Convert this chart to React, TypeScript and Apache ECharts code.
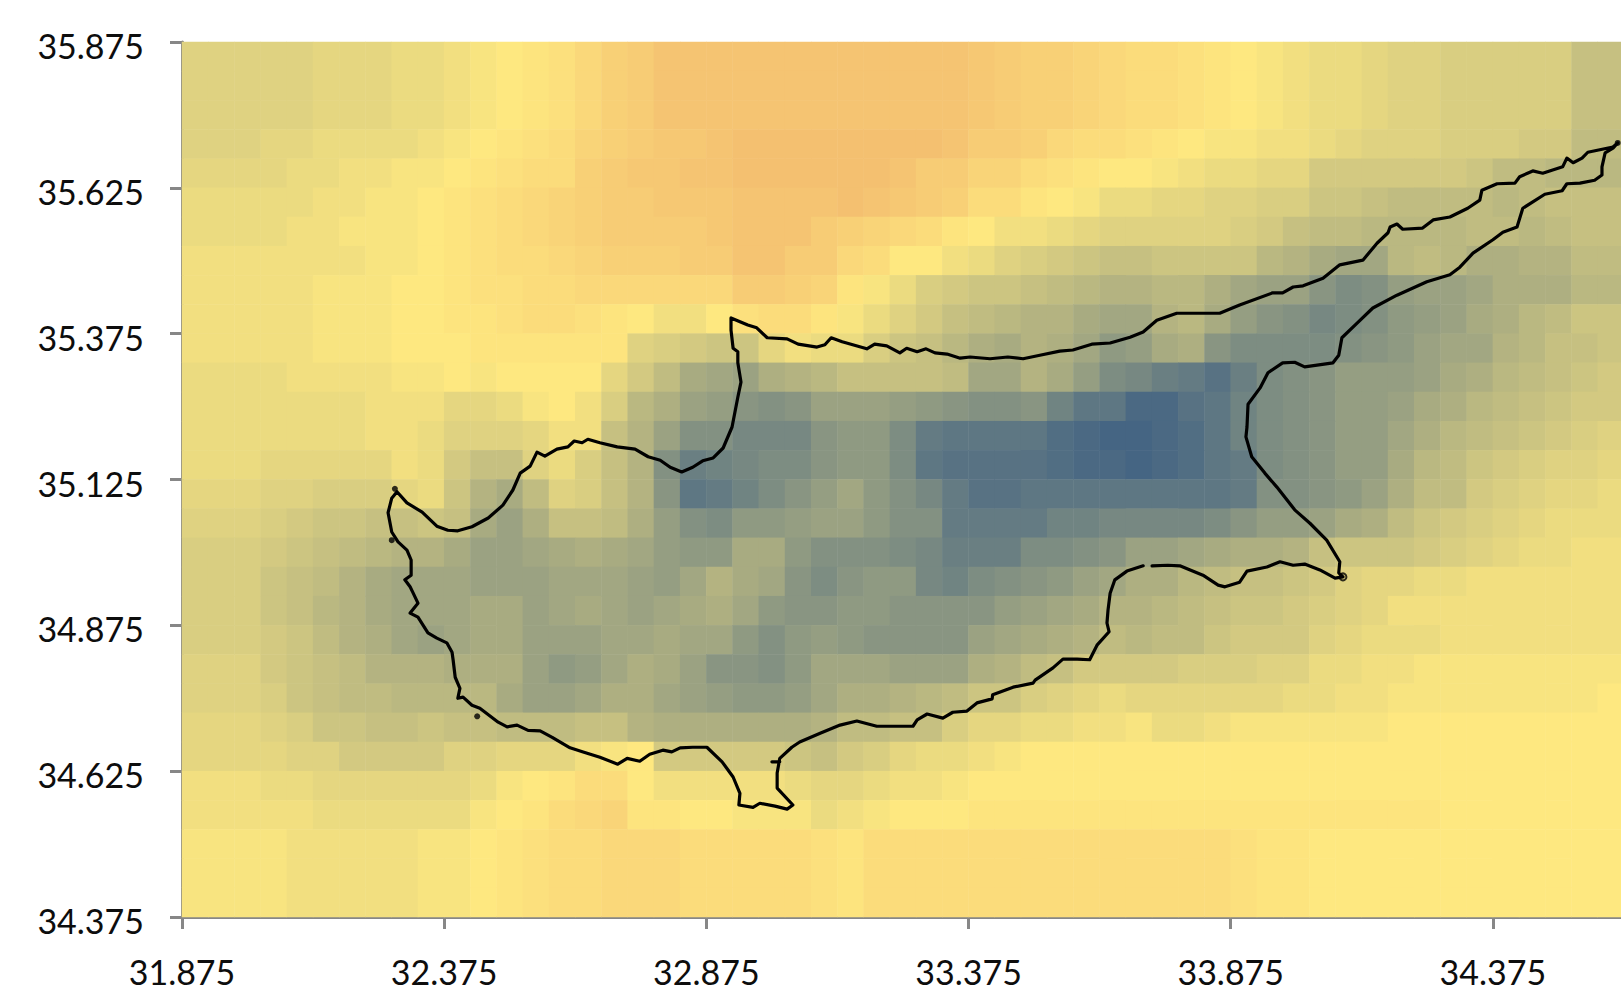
import React, { useEffect, useRef } from "react";
import * as echarts from "echarts";

const xTickLabels = ["31.875", "32.375", "32.875", "33.375", "33.875", "34.375"];
const yTickLabels = ["34.375", "34.625", "34.875", "35.125", "35.375", "35.625", "35.875"];

// cell values, north to south, west to east
const row00 = [25,25,25,25,25,26,26,26,27,27,28,29,30,31,32,34,36,37,39,39,39,39,39,39,39,39,39,39,39,39,38,37,36,36,35,34,33,33,32,31,30,29,28,27,27,26,25,25,24,24,24,24,24,21,21];
const row01 = row00;
const row02 = row00;
const row03 = [25,25,25,26,26,27,27,27,27,28,29,30,31,32,33,35,36,37,38,38,39,40,40,40,40,40,40,40,40,39,37,37,36,34,33,33,32,31,30,29,29,28,28,27,26,25,25,25,24,24,24,23,23,20,20];
const row04 = [26,26,26,26,27,27,28,28,29,29,30,31,32,33,33,36,37,38,38,39,39,40,40,40,40,40,40,39,37,37,35,35,33,32,31,30,30,29,28,27,27,26,26,23,23,23,23,23,23,22,20,20,19,19,19];
const row05 = [27,27,27,27,27,28,28,29,29,30,31,32,33,34,35,36,37,37,38,38,38,39,39,39,39,40,39,38,37,36,33,33,31,30,29,27,27,26,26,25,25,24,24,22,22,21,20,20,20,20,19,20,21,21,21];
const row06 = [27,27,27,27,28,28,29,29,29,30,31,32,33,34,35,36,37,37,37,37,38,39,39,39,37,36,35,34,33,31,30,28,28,27,26,25,25,25,25,25,24,23,21,20,20,19,19,19,19,20,20,19,20,21,21];
const row07 = [28,28,28,28,28,28,28,29,29,30,31,32,33,33,34,35,36,36,36,37,37,39,39,37,37,34,33,30,30,28,27,25,24,23,22,21,21,22,22,22,22,19,18,16,15,15,19,20,19,17,17,18,18,20,20];
const row08 = [28,28,28,28,28,29,29,29,30,30,31,32,32,33,33,34,34,34,34,34,34,37,37,36,35,31,29,27,24,23,22,22,21,20,19,18,18,19,19,17,15,14,14,11,9,10,13,14,14,15,17,17,17,19,19];
const row09 = [28,28,28,28,28,29,29,29,30,30,31,31,32,33,33,32,31,30,28,28,30,32,33,33,31,29,27,25,23,21,20,19,18,18,16,15,15,18,19,16,13,11,10,8,9,10,12,13,14,16,17,19,20,22,22];
const row10 = [28,28,28,28,28,29,29,29,30,30,30,31,31,31,31,31,31,25,24,23,22,22,26,28,27,27,24,22,21,19,17,16,18,17,15,12,13,16,17,11,9,9,9,9,10,11,12,14,15,15,18,19,21,21,22];
const row11 = [27,27,27,27,28,28,28,28,29,29,30,29,30,30,30,30,26,23,20,16,15,14,17,18,19,21,21,21,21,20,15,15,18,16,13,9,8,6,5,3,6,9,10,11,13,13,13,14,16,17,19,20,21,22,23];
const row12 = [27,27,27,27,27,27,27,28,28,28,26,26,27,29,30,28,24,19,17,14,13,11,10,11,14,14,14,13,12,11,10,10,11,7,4,4,1,1,3,4,7,9,10,11,13,13,14,16,17,19,20,21,22,23,23];
const row13 = [27,27,27,27,27,27,27,28,28,27,25,25,25,26,28,28,21,18,14,10,10,8,8,8,11,12,12,9,5,4,4,4,4,2,1,0,0,1,2,4,7,9,10,11,13,13,15,17,19,20,21,22,23,24,25];
const row14 = [27,27,27,26,26,26,26,26,28,27,23,21,21,25,27,24,21,18,10,6,7,8,9,9,11,12,12,9,4,3,3,3,3,2,1,1,0,1,2,4,5,9,10,11,13,13,16,19,20,22,23,24,25,25,26];
const row15 = [26,26,26,25,25,24,24,24,26,27,22,18,16,20,25,24,21,18,11,4,5,7,9,11,13,15,12,10,8,5,3,3,4,4,4,4,4,4,4,4,5,10,10,11,12,14,17,20,20,23,24,25,26,26,27];
const row16 = [25,25,25,24,23,22,22,21,21,22,21,16,14,17,21,21,20,17,13,10,9,12,12,13,14,14,12,10,10,5,5,5,5,7,7,8,8,8,8,9,11,13,13,14,16,17,20,22,23,24,25,26,27,27,27];
const row17 = [24,24,24,23,22,21,20,19,18,18,16,14,14,15,16,17,16,15,13,12,12,16,16,12,10,10,10,9,8,6,6,6,9,9,10,11,14,14,15,16,17,17,18,21,22,22,22,23,24,25,26,27,27,28,28];
const row18 = [24,24,24,22,21,20,18,16,15,15,15,14,14,14,15,15,15,14,13,15,18,16,15,11,9,11,12,12,8,7,9,10,11,12,14,15,17,17,19,20,21,21,22,23,25,26,26,27,27,28,28,28,28,28,28];
const row19 = [24,24,24,22,21,19,18,16,15,15,15,16,16,14,15,16,15,14,15,16,17,15,12,11,11,12,12,11,11,11,11,13,14,15,16,18,18,19,20,21,22,22,23,24,25,26,28,28,28,28,28,28,28,28,28];
const row20 = [24,24,24,23,22,20,18,17,15,14,15,16,16,14,14,14,15,15,16,15,15,12,10,12,13,12,11,11,11,11,14,15,16,17,18,20,19,20,20,22,23,23,23,25,26,27,27,27,28,28,28,28,28,28,28];
const row21 = [25,25,25,23,22,21,20,18,18,18,17,17,17,14,12,13,15,17,16,14,11,11,10,12,15,15,15,14,14,14,17,18,20,21,23,23,23,23,24,24,24,25,25,27,27,28,28,29,29,29,29,29,29,29,29];
const row22 = [25,25,25,24,22,21,20,20,19,19,19,19,16,14,14,15,17,17,15,14,13,12,12,13,15,17,17,18,19,20,22,22,24,25,26,27,26,26,26,26,26,26,27,27,28,28,29,29,29,29,29,29,29,29,30];
const row23 = [26,26,26,25,24,22,22,21,21,22,21,21,20,20,20,21,21,18,17,17,17,17,17,17,18,20,20,21,21,24,26,26,27,27,28,28,29,27,27,28,29,29,29,29,29,29,30,30,30,30,30,30,30,30,30];
const row24 = [26,26,26,26,25,25,23,23,23,23,25,25,26,26,26,28,29,30,23,23,23,23,23,22,21,23,24,26,27,27,28,29,30,30,30,30,30,30,30,30,30,30,30,30,30,30,30,30,30,30,30,30,30,30,30];
const row25 = [28,28,28,27,27,26,26,26,26,26,26,27,29,30,31,33,33,30,28,28,28,28,28,27,26,26,27,28,28,29,30,30,30,30,30,30,30,30,30,30,30,30,30,30,30,30,30,30,30,30,30,30,30,30,30];
const row26 = [28,28,28,28,28,27,27,27,27,27,27,29,30,31,33,34,35,31,31,30,30,29,29,29,27,28,29,30,30,30,31,31,31,31,31,31,31,31,31,31,31,31,31,31,31,31,31,31,30,30,30,30,30,30,30];
const row27 = [29,29,29,29,28,28,28,28,28,29,29,30,31,32,33,33,34,34,34,33,33,33,33,33,32,31,33,33,33,33,33,33,33,33,33,33,33,33,33,33,32,31,31,30,30,30,30,30,30,30,30,30,30,30,30];
const row28 = row27;
const row29 = row27;

const cellRows = [row00,row01,row02,row03,row04,row05,row06,row07,row08,row09,row10,row11,row12,row13,row14,row15,row16,row17,row18,row19,row20,row21,row22,row23,row24,row25,row26,row27,row28,row29];

// coastline, degrees; null marks a break in the line
const coastLon = [32.285,32.304,32.333,32.361,32.382,32.401,32.428,32.459,32.487,32.506,32.520,32.539,32.552,32.567,32.590,32.611,32.623,32.638,32.649,32.672,32.705,32.739,32.764,32.787,32.806,32.828,32.849,32.868,32.888,32.907,32.924,32.935,32.941,32.935,32.935,32.926,32.922,32.922,32.954,32.971,32.991,33.029,33.050,33.086,33.101,33.113,33.134,33.181,33.196,33.219,33.244,33.257,33.277,33.294,33.311,33.334,33.359,33.378,33.416,33.450,33.479,33.511,33.549,33.574,33.610,33.645,33.683,33.708,33.734,33.772,33.822,33.854,33.892,33.955,33.974,33.994,34.013,34.051,34.083,34.127,34.154,34.175,34.179,34.192,34.203,34.241,34.261,34.293,34.327,34.350,34.354,34.383,34.417,34.426,34.451,34.470,34.508,34.516,34.528,34.545,34.556,34.604,34.613,34.604,34.589,34.583,34.583,34.569,34.541,34.516,34.507,34.474,34.432,34.421,34.394,34.375,34.337,34.312,34.293,34.249,34.192,34.146,34.116,34.087,34.081,34.070,34.016,33.997,33.974,33.946,33.931,33.908,33.906,33.904,33.915,33.940,33.963,33.997,34.026,34.058,34.083,34.081,34.089,34.074,34.045,34.016,33.994,33.969,33.944,33.906,33.892,33.864,33.851,33.822,33.778,33.755,33.725,null,33.708,33.677,33.654,33.645,33.641,33.639,33.643,33.620,33.606,33.582,33.555,33.536,33.502,33.498,33.460,33.421,33.420,33.391,33.372,33.345,33.326,33.296,33.277,33.269,33.200,33.162,33.130,33.092,33.053,33.038,33.015,33.010,33.010,33.040,33.029,33.006,32.977,32.964,32.937,32.939,32.926,32.905,32.876,32.849,32.825,32.809,32.792,32.767,32.748,32.724,32.706,32.672,32.640,32.615,32.581,32.558,32.535,32.514,32.495,32.478,32.443,32.428,32.411,32.401,32.405,32.396,32.392,32.390,32.380,32.361,32.344,32.325,32.310,32.325,32.315,32.310,32.300,32.312,32.312,32.304,32.287,32.275,32.268,32.275,32.285,null,33.000,33.015];
const coastLat = [35.104,35.085,35.069,35.045,35.038,35.037,35.044,35.059,35.081,35.107,35.136,35.148,35.172,35.165,35.177,35.181,35.191,35.188,35.194,35.188,35.181,35.177,35.164,35.158,35.146,35.138,35.146,35.157,35.162,35.179,35.215,35.266,35.292,35.325,35.344,35.350,35.381,35.402,35.390,35.385,35.368,35.366,35.357,35.352,35.356,35.368,35.361,35.349,35.357,35.354,35.342,35.350,35.344,35.349,35.342,35.340,35.333,35.335,35.332,35.335,35.332,35.338,35.345,35.347,35.357,35.359,35.369,35.378,35.398,35.410,35.410,35.410,35.424,35.445,35.445,35.455,35.457,35.470,35.493,35.501,35.530,35.548,35.558,35.563,35.554,35.556,35.570,35.575,35.590,35.604,35.621,35.632,35.633,35.644,35.654,35.650,35.661,35.676,35.668,35.676,35.686,35.695,35.702,35.693,35.685,35.661,35.647,35.638,35.633,35.632,35.620,35.614,35.590,35.558,35.549,35.536,35.513,35.489,35.476,35.464,35.441,35.419,35.393,35.368,35.338,35.325,35.318,35.326,35.325,35.308,35.282,35.254,35.215,35.198,35.164,35.136,35.112,35.073,35.050,35.021,34.984,34.965,34.958,34.956,34.970,34.980,34.978,34.984,34.975,34.968,34.949,34.941,34.944,34.961,34.977,34.978,34.977,null,34.977,34.968,34.953,34.930,34.901,34.879,34.864,34.841,34.816,34.817,34.817,34.802,34.781,34.776,34.769,34.756,34.749,34.742,34.728,34.726,34.716,34.723,34.713,34.702,34.702,34.711,34.704,34.690,34.675,34.666,34.647,34.622,34.596,34.567,34.560,34.565,34.570,34.563,34.567,34.587,34.615,34.641,34.666,34.666,34.665,34.658,34.661,34.654,34.642,34.647,34.637,34.649,34.658,34.665,34.683,34.694,34.695,34.704,34.701,34.709,34.733,34.738,34.752,34.750,34.767,34.786,34.816,34.829,34.845,34.853,34.862,34.889,34.896,34.913,34.932,34.941,34.953,34.961,34.987,35.004,35.018,35.035,35.068,35.093,35.104,null,34.641,34.641];

const isletLon = [32.281, 32.275, 32.438, 34.613];
const isletLat = [35.109, 35.021, 34.719, 35.702];
const ringLon = [34.089];
const ringLat = [34.958];

const LON0 = 31.875;
const LAT0 = 34.375;
const CELL = 0.05;

export default function App() {
  const ref = useRef<HTMLDivElement>(null);
  useEffect(() => {
    const chart = echarts.init(ref.current!, undefined, { renderer: "svg" });
    const nCols = cellRows[0].length;
    const nRows = cellRows.length;
    const lonCats = Array.from({ length: nCols }, (_, i) => (LON0 + CELL * i).toFixed(3));
    const latCats = Array.from({ length: nRows }, (_, j) => (LAT0 + CELL * j).toFixed(3));
    const cells: number[][] = [];
    cellRows.forEach((row, r) => row.forEach((v, c) => cells.push([c, nRows - 1 - r, v])));
    const coast = coastLon.map((lon, i) =>
      lon === null ? ["-", "-"] : [+(lon - LON0).toFixed(3), +((coastLat[i] as number) - LAT0).toFixed(3)]
    );
    const gridBox = { left: 182, top: 42, width: 1442, height: 875, outerBoundsMode: "none" };
    const labelStyle = { fontFamily: "Lato", fontSize: 34, color: "#0d0d0d" };
    const axisColor = "#878787";
    chart.setOption({
      animation: false,
      backgroundColor: "#ffffff",
      grid: [
        { ...gridBox, show: false },
        { ...gridBox, show: false },
      ],
      xAxis: [
        { type: "category", gridIndex: 0, data: lonCats, show: false },
        {
          type: "value",
          gridIndex: 1,
          min: 0,
          max: CELL * nCols,
          interval: 0.5,
          splitLine: { show: false },
          axisLine: { show: true, onZero: false, lineStyle: { color: axisColor, width: 3 } },
          axisTick: { show: true, length: 12, lineStyle: { color: axisColor, width: 3 } },
          axisLabel: {
            ...labelStyle,
            margin: 37,
            showMaxLabel: false,
            formatter: (v: number) => xTickLabels[Math.round(v / 0.5)] ?? "",
          },
        },
      ],
      yAxis: [
        { type: "category", gridIndex: 0, data: latCats, show: false },
        {
          type: "value",
          gridIndex: 1,
          min: 0,
          max: CELL * nRows,
          interval: 0.25,
          splitLine: { show: false },
          axisLine: { show: true, onZero: false, lineStyle: { color: axisColor, width: 3 } },
          axisTick: { show: true, length: 12, lineStyle: { color: axisColor, width: 3 } },
          axisLabel: {
            ...labelStyle,
            margin: 38,
            verticalAlign: "top",
            lineHeight: 7,
            formatter: (v: number) => yTickLabels[Math.round(v / 0.25)] ?? "",
          },
        },
      ],
      visualMap: {
        show: false,
        seriesIndex: 0,
        dimension: 2,
        min: 0,
        max: 40,
        inRange: { color: ["#456583", "#839182", "#c0bc81", "#fee880", "#f4c070"] },
      },
      series: [
        {
          type: "heatmap",
          xAxisIndex: 0,
          yAxisIndex: 0,
          data: cells,
          progressive: 0,
          emphasis: { disabled: true },
          itemStyle: { borderWidth: 0 },
          z: 1,
        },
        {
          type: "line",
          xAxisIndex: 1,
          yAxisIndex: 1,
          data: coast,
          symbol: "none",
          connectNulls: false,
          lineStyle: { color: "#000000", width: 3.2, join: "round", cap: "round" },
          z: 5,
        },
        {
          type: "scatter",
          xAxisIndex: 1,
          yAxisIndex: 1,
          data: isletLon.map((lon, i) => [lon - LON0, isletLat[i] - LAT0]),
          symbolSize: 6,
          itemStyle: { color: "#000000" },
          z: 6,
        },
        {
          type: "scatter",
          xAxisIndex: 1,
          yAxisIndex: 1,
          data: ringLon.map((lon, i) => [lon - LON0, ringLat[i] - LAT0]),
          symbolSize: 7,
          itemStyle: { color: "transparent", borderColor: "#000000", borderWidth: 2 },
          z: 6,
        },
      ],
    });
    return () => chart.dispose();
  }, []);
  return (
    <div
      ref={ref}
      style={{ position: "fixed", left: 0, top: 0, width: 1621, height: 998, overflow: "hidden", background: "#fff" }}
    />
  );
}
